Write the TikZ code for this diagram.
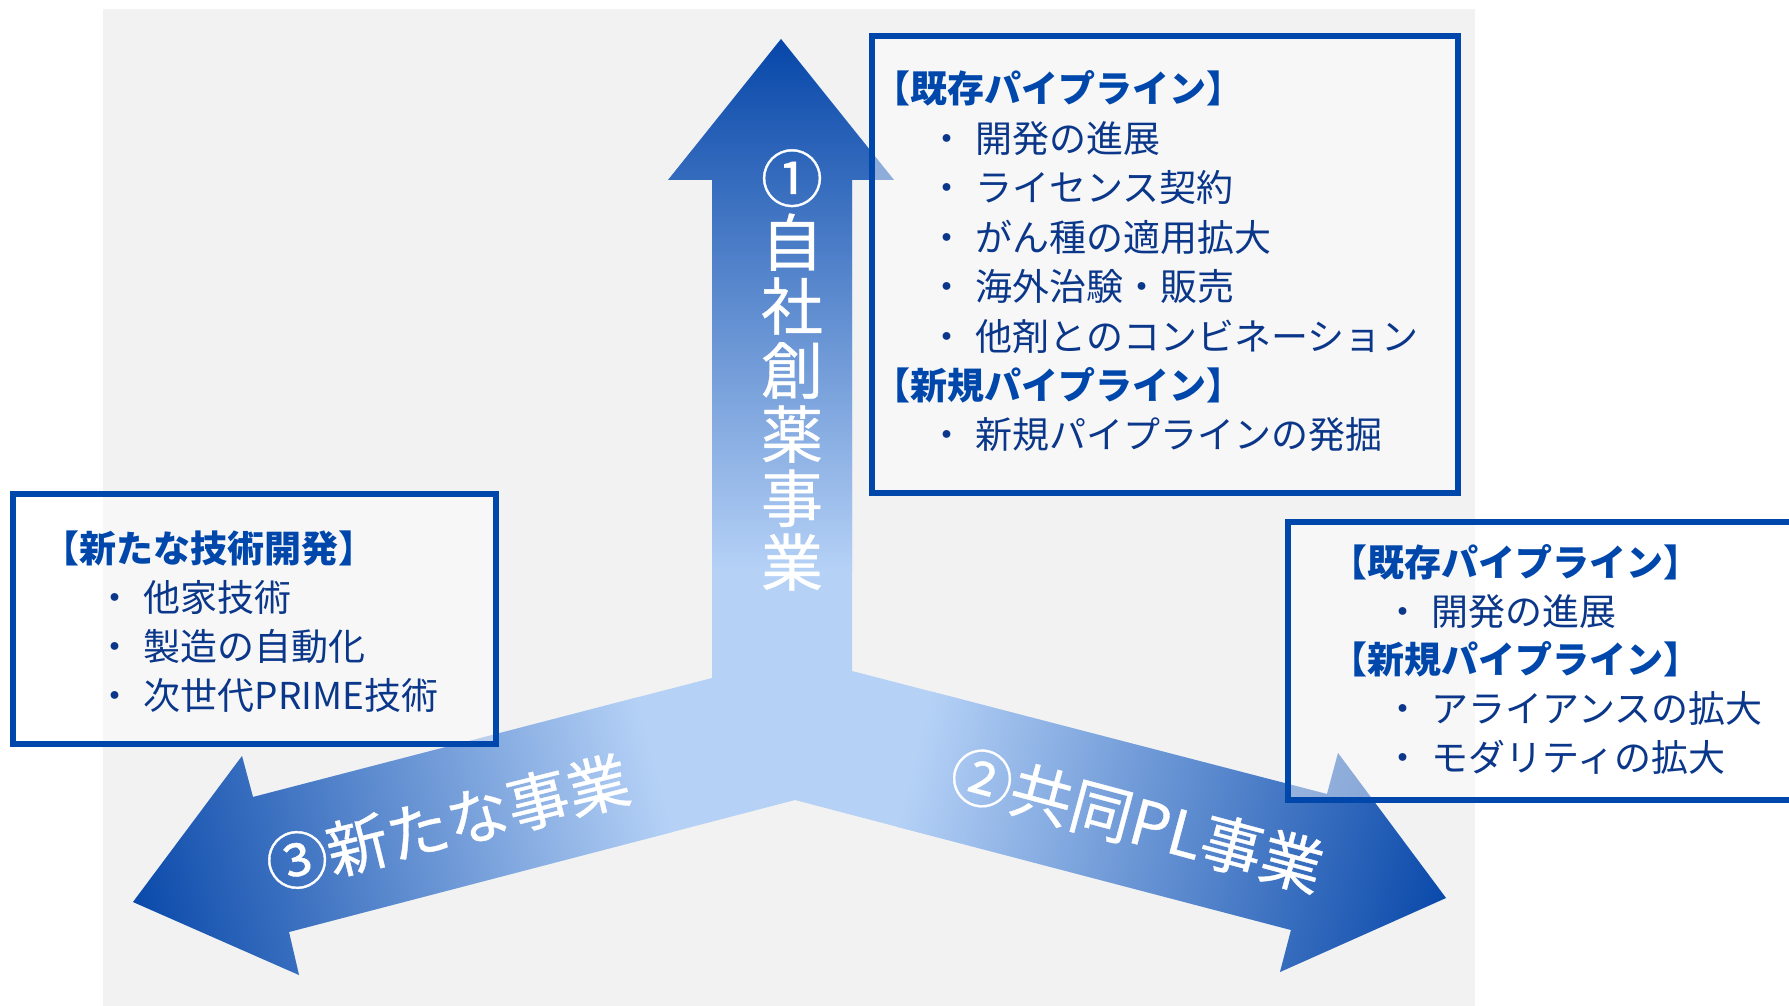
\documentclass[tikz,border=0pt]{standalone}
\usepackage{fontspec}
\setmainfont{Noto Sans CJK JP}
\newfontfamily\lblfont{Noto Sans CJK JP}[FakeBold=0.6]
\definecolor{bggray}{HTML}{F2F2F2}
\definecolor{adark}{HTML}{0747A9}
\definecolor{alight}{HTML}{B5D1F6}
\definecolor{boxblue}{HTML}{0047AB}
\definecolor{headblue}{HTML}{0047AB}
\definecolor{itemblue}{HTML}{0B378A}
\newcommand{\mybullet}{・\hspace{10pt}}
\begin{document}
\begin{tikzpicture}[x=1pt,y=-1pt,
  infobox/.style={draw=boxblue, line width=6pt, fill=white, fill opacity=0.45, draw opacity=1, inner sep=0pt},
  headtxt/.style={anchor=base west, inner sep=0pt, text=headblue, font=\fontsize{37pt}{44pt}\selectfont\bfseries},
  itemtxt/.style={anchor=base west, inner sep=0pt, text=itemblue, font=\fontsize{37pt}{44pt}\selectfont},
  arrowlbl/.style={text=white, inner sep=0pt, font=\lblfont\fontsize{62pt}{64pt}\selectfont}]
\useasboundingbox (0,0) rectangle (1789,1006);
\fill[white] (0,0) rectangle (1789,1006);
\fill[bggray] (103,9) rectangle (1475,1006);

% Y-shaped three-way arrow
\begin{scope}
\clip (781,39) -- (894,180) -- (852,180) -- (852,671) -- (1327,794) -- (1338,753)
  -- (1446,898) -- (1280,972) -- (1291,930) -- (795,800) -- (289,932) -- (299,975)
  -- (133,902) -- (242,756) -- (253,797) -- (712,678) -- (712,180) -- (668,180) -- cycle;
\fill[alight] (0,0) rectangle (1789,1006);
\shade[top color=adark, bottom color=alight] (650,39) rectangle (910,570);
\begin{scope}[transform canvas={rotate around={14.5:(133,902)}}]
  \shade[left color=adark, right color=alight] (123,772) rectangle (673,1032);
\end{scope}
\begin{scope}[transform canvas={rotate around={-14.5:(1446,898)}}]
  \shade[left color=alight, right color=adark] (896,768) rectangle (1456,1028);
\end{scope}
\end{scope}

% boxes
\node[infobox, minimum width=586pt, minimum height=457pt] (boxTR) at (1165,264.5) {};
\node[infobox, minimum width=483pt, minimum height=250pt] (boxL) at (254.5,619) {};
\node[infobox, minimum width=507pt, minimum height=277.5pt] (boxR) at (1541.5,660.75) {};

% top-right box text
\node[headtxt] (tr1) at (873,103) {【既存パイプライン】};
\node[itemtxt] (tr2) at (928.5,152.4) {\mybullet 開発の進展};
\node[itemtxt] (tr3) at (928.5,201.8) {\mybullet ライセンス契約};
\node[itemtxt] (tr4) at (928.5,251.2) {\mybullet がん種の適用拡大};
\node[itemtxt] (tr5) at (928.5,300.6) {\mybullet 海外治験・販売};
\node[itemtxt] (tr6) at (928.5,350) {\mybullet 他剤とのコンビネーション};
\node[headtxt] (tr7) at (873,399.4) {【新規パイプライン】};
\node[itemtxt] (tr8) at (928.5,448.8) {\mybullet 新規パイプラインの発掘};

% left box text
\node[headtxt] (l1) at (42,562) {【新たな技術開発】};
\node[itemtxt] (l2) at (96.5,611) {\mybullet 他家技術};
\node[itemtxt] (l3) at (96.5,660) {\mybullet 製造の自動化};
\node[itemtxt] (l4) at (96.5,709) {\mybullet 次世代PRIME技術};

% right box text
\node[headtxt] (r1) at (1330,576) {【既存パイプライン】};
\node[itemtxt] (r2) at (1384.5,625) {\mybullet 開発の進展};
\node[headtxt] (r3) at (1330,673) {【新規パイプライン】};
\node[itemtxt] (r4) at (1384.5,722) {\mybullet アライアンスの拡大};
\node[itemtxt] (r5) at (1384.5,771) {\mybullet モダリティの拡大};

% arrow labels
\node[arrowlbl, align=center] (lbl1) at (792,370) {①\\自\\社\\創\\薬\\事\\業};
\node[arrowlbl, rotate=14] (lbl3) at (447.5,822.5) {③新たな事業};
\node[arrowlbl, rotate=-15] (lbl2) at (1137,820) {②共同PL事業};
\end{tikzpicture}
\end{document}
